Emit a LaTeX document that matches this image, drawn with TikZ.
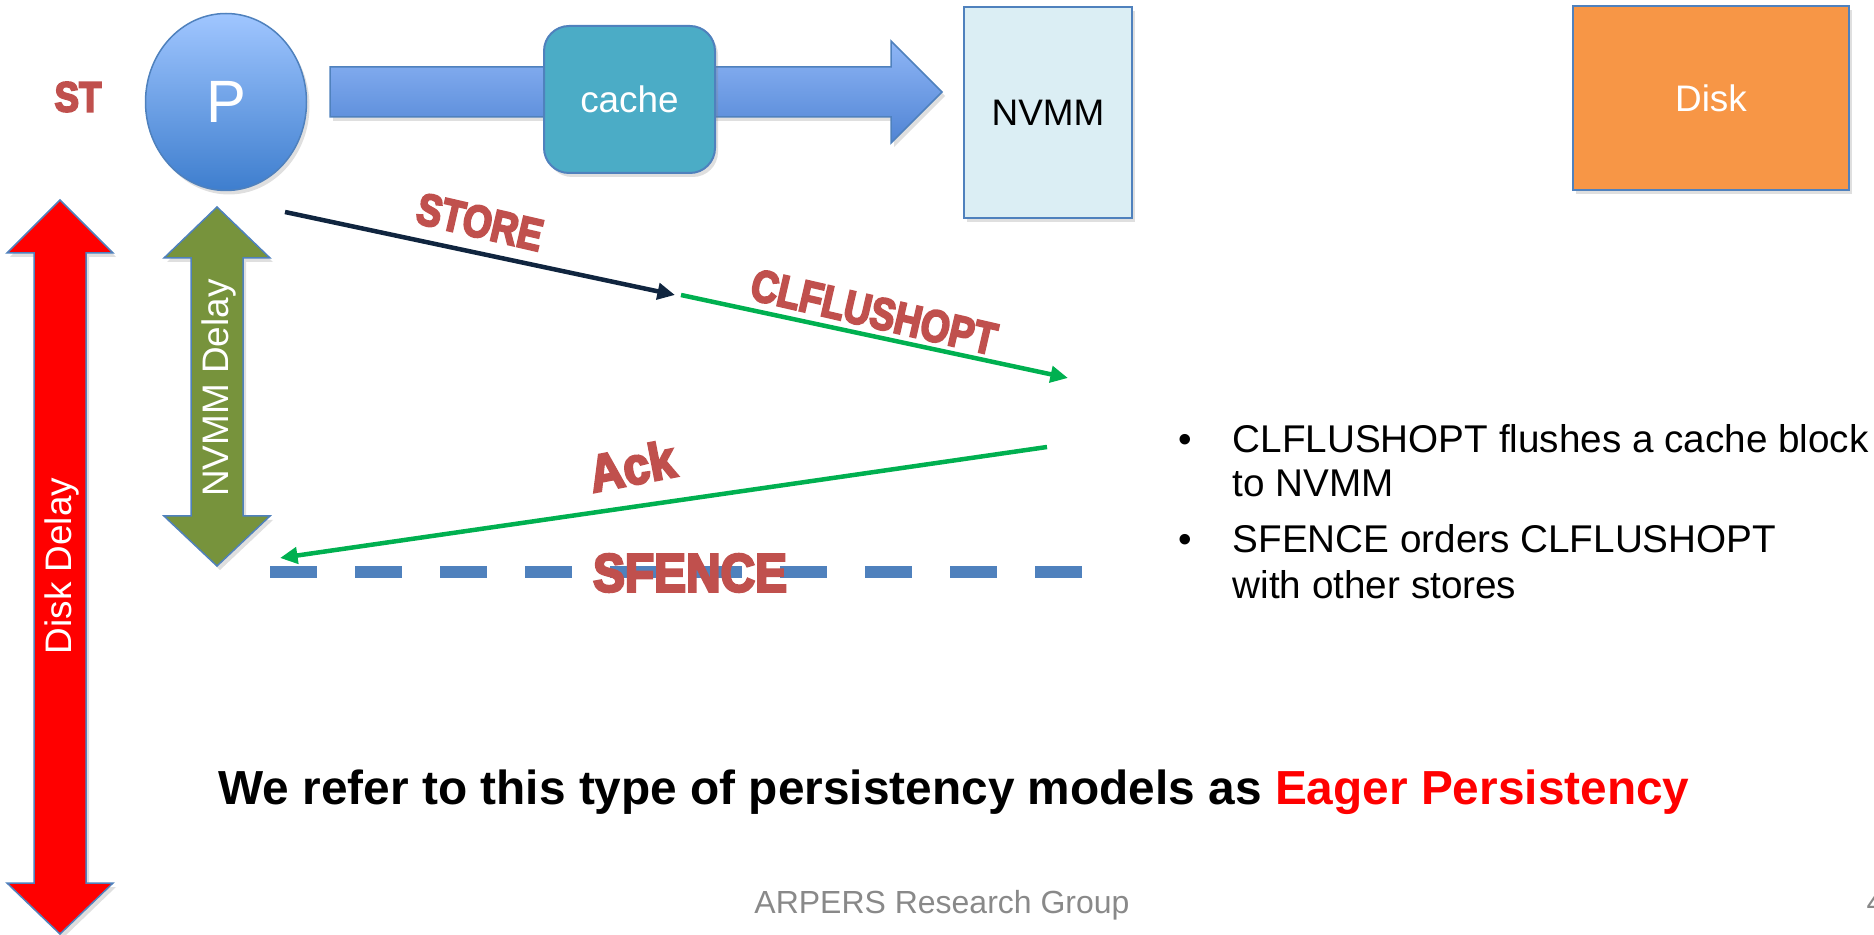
\documentclass[tikz,border=0pt]{standalone}
\usepackage{fontspec}
\setmainfont{Liberation Sans}
\newfontfamily\wordfont{Liberation Sans}[BoldFeatures={FakeBold=5}]
\usepackage{graphicx}
\usepackage{tikz}
\usetikzlibrary{positioning,arrows.meta,shapes.geometric,shadows}
\definecolor{edgeblue}{RGB}{79,129,189}
\definecolor{wordred}{RGB}{192,80,77}
\definecolor{navy}{RGB}{16,37,63}
\definecolor{flushgreen}{RGB}{0,176,80}
\definecolor{cachecol}{RGB}{75,172,198}
\definecolor{nvmmcol}{RGB}{219,238,244}
\definecolor{diskcol}{RGB}{247,150,70}
\definecolor{olive}{RGB}{119,147,60}
\definecolor{footgray}{RGB}{137,137,137}
\definecolor{ptop}{RGB}{160,198,255}
\definecolor{pbot}{RGB}{62,126,206}
\definecolor{shafttop}{RGB}{143,182,246}
\definecolor{shaftbot}{RGB}{80,132,212}
\newcommand{\pxfont}[1]{\fontsize{#1}{#1}\selectfont}
\newcommand{\wordart}[2][1.2]{\scalebox{1}[#1]{#2}}
\tikzset{
  shade/.style={drop shadow={shadow xshift=0.3mm,shadow yshift=-0.4mm,opacity=0.25}},
  box/.style={draw=edgeblue,line width=0.2mm,inner sep=0pt,shade},
  msg/.style={line width=0.45mm,-{Triangle[length=5pt,width=4.6pt]}},
  wordlbl/.style={text=wordred,inner sep=0pt,font=\wordfont\bfseries\pxfont{10.6pt}},
  delayarrow/.style={draw=edgeblue,line width=0.15mm,shade},
  delaytext/.style={text=white,inner sep=0pt,font=\pxfont{10.5pt}},
  bullettxt/.style={inner sep=0pt,anchor=base west,font=\pxfont{11pt}},
  fence/.style={line width=1.2mm,edgeblue,dash pattern=on 4.7mm off 3.8mm}
}
\begin{document}
\begin{tikzpicture}[x=0.1mm,y=-0.1mm]
  \useasboundingbox (0,0) rectangle (1874,935);
  % processor and the write path
  \node[wordlbl,font=\wordfont\bfseries\pxfont{10.4pt}] (st) at (78,97) {\wordart[1.15]{ST}};
  \node[ellipse,draw=edgeblue,line width=0.15mm,top color=ptop,bottom color=pbot,minimum width=16.1mm,minimum height=17.7mm,inner sep=0pt,text=white,font=\pxfont{17pt},shade] (P) at (226,102) {P};
  \fill[top color=shafttop,bottom color=shaftbot,draw=edgeblue,line width=0.15mm,shade] (330,67) -- (891,67) -- (891,41) -- (942,92) -- (891,143) -- (891,117) -- (330,117) -- cycle;
  \node[box,rounded corners=2.5mm,fill=cachecol,minimum width=17.1mm,minimum height=14.7mm,text=white,font=\pxfont{10.5pt}] (cache) at (629.5,99.5) {cache};
  \node[box,fill=nvmmcol,minimum width=16.8mm,minimum height=21.1mm,font=\pxfont{10.5pt}] (nvmm) at (1048,112.5) {NVMM};
  \node[box,fill=diskcol,minimum width=27.6mm,minimum height=18.4mm,text=white,font=\pxfont{10.5pt}] (disk) at (1711,98) {Disk};
  % delays
  \fill[delayarrow,fill=red] (60,200) -- (113,253) -- (86,253) -- (86,883) -- (113,883) -- (60,934) -- (7,883) -- (34,883) -- (34,253) -- (7,253) -- cycle;
  \node[delaytext,rotate=90] (diskdelay) at (62,566) {Disk Delay};
  \fill[delayarrow,fill=olive] (217,207) -- (270,258) -- (243,258) -- (243,516) -- (270,516) -- (217,566) -- (164,516) -- (191,516) -- (191,258) -- (164,258) -- cycle;
  \node[delaytext,rotate=90] (nvmmdelay) at (219,388) {NVMM Delay};
  % messages
  \coordinate (storeS) at (285,212); \coordinate (storeE) at (675,295);
  \coordinate (flushS) at (681,295); \coordinate (flushE) at (1068,378);
  \coordinate (ackS) at (1047,447); \coordinate (ackE) at (280,558);
  \coordinate (fenceS) at (270,572); \coordinate (fenceE) at (1084,572);
  \draw[msg,navy] (storeS) -- (storeE);
  \draw[msg,flushgreen] (flushS) -- (flushE);
  \draw[msg,flushgreen] (ackS) -- (ackE);
  \draw[fence] (fenceS) -- (fenceE);
  \node[wordlbl,rotate=-13] (storelbl) at (480,222) {\wordart{STORE}};
  \node[wordlbl,rotate=-13] (flushlbl) at (874,312) {\wordart{CLFLUSHOPT}};
  \node[wordlbl,rotate=11,font=\wordfont\bfseries\pxfont{13.4pt}] (acklbl) at (632,466) {\wordart[1.1]{Ack}};
  \node[wordlbl,font=\wordfont\bfseries\pxfont{13.6pt}] (fencelbl) at (690,573) {\wordart[1.12]{SFENCE}};
  % bullets
  \node[bullettxt,anchor=base] (dot1) at (1185,453) {•};
  \node[bullettxt] (b1a) at (1232,453) {CLFLUSHOPT flushes a cache block};
  \node[bullettxt] (b1b) at (1232,497) {to NVMM};
  \node[bullettxt,anchor=base] (dot2) at (1185,553) {•};
  \node[bullettxt] (b2a) at (1232,553) {SFENCE orders CLFLUSHOPT};
  \node[bullettxt] (b2b) at (1232,599) {with other stores};
  % bottom text
  \node[inner sep=0pt,anchor=base west,font=\bfseries\pxfont{13.6pt}] (claim) at (218,805) {We refer to this type of persistency models as \textcolor{red}{Eager Persistency}};
  \node[inner sep=0pt,anchor=base,text=footgray,font=\pxfont{9.1pt}] (footer) at (942,913) {ARPERS Research Group};
  \node[inner sep=0pt,anchor=base west,text=footgray,font=\pxfont{9.1pt}] (pageno) at (1866,913) {4};
\end{tikzpicture}
\end{document}
